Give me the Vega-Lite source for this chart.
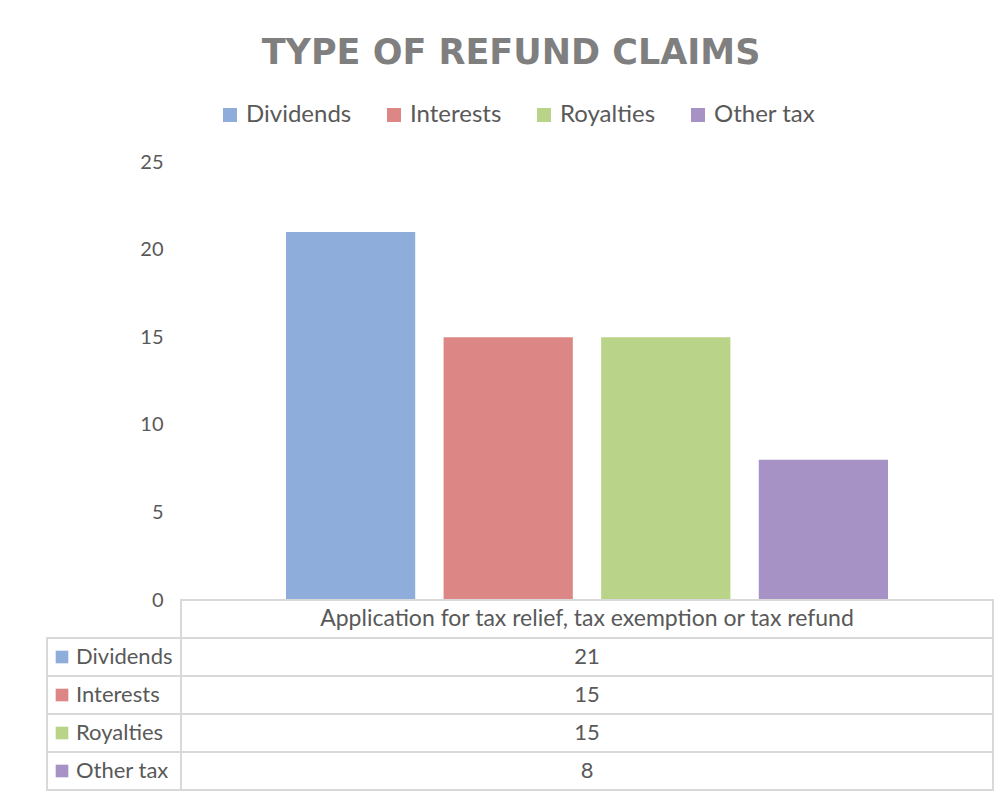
{
  "$schema": "https://vega.github.io/schema/vega-lite/v6.json",
  "padding": {"left": 46, "top": 36, "right": 10, "bottom": 2},
  "background": "white",
  "datasets": {
    "claims": [
      {"category": "Application for tax relief, tax exemption or tax refund", "series": "Dividends", "count": 21},
      {"category": "Application for tax relief, tax exemption or tax refund", "series": "Interests", "count": 15},
      {"category": "Application for tax relief, tax exemption or tax refund", "series": "Royalties", "count": 15},
      {"category": "Application for tax relief, tax exemption or tax refund", "series": "Other tax", "count": 8}
    ]
  },
  "title": {
    "text": "TYPE OF REFUND CLAIMS",
    "font": "DejaVu Sans",
    "fontSize": 35,
    "fontWeight": "bold",
    "color": "#7f7f7f",
    "anchor": "middle",
    "offset": 32,
    "dx": -9
  },
  "spacing": 0,
  "bounds": "flush",
  "resolve": {"legend": {"color": "independent"}},
  "vconcat": [
    {
      "width": 946,
      "height": 438,
      "data": {"name": "claims"},
      "mark": {"type": "bar"},
      "encoding": {
        "x": {
          "field": "series",
          "type": "nominal",
          "sort": ["Dividends", "Interests", "Royalties", "Other tax"],
          "scale": {"range": [239, 841], "paddingInner": 0.18, "paddingOuter": 0},
          "axis": null
        },
        "y": {
          "field": "count",
          "type": "quantitative",
          "scale": {"domain": [0, 25]},
          "axis": {
            "values": [0, 5, 10, 15, 20, 25],
            "grid": false,
            "domain": false,
            "ticks": false,
            "labelPadding": 18,
            "offset": -134,
            "labelFont": "Lato",
            "labelFontSize": 20,
            "labelColor": "#595959",
            "title": null
          }
        },
        "color": {
          "field": "series",
          "type": "nominal",
          "scale": {
            "domain": ["Dividends", "Interests", "Royalties", "Other tax"],
            "range": ["#8eaddb", "#dc8785", "#b9d388", "#a692c5"]
          },
          "legend": {
            "orient": "none",
            "legendX": 171,
            "legendY": -59,
            "direction": "horizontal",
            "title": null,
            "padding": 0,
            "symbolType": "square",
            "symbolSize": 196,
            "symbolStrokeWidth": 0,
            "labelFont": "Lato",
            "labelFontSize": 24,
            "labelColor": "#595959",
            "labelOffset": 4,
            "columnPadding": 30
          }
        }
      }
    },
    {
      "spacing": 0,
      "bounds": "flush",
      "hconcat": [
        {
          "width": 134,
          "height": 190,
          "data": {"name": "claims"},
          "encoding": {
            "y": {
              "field": "series",
              "type": "nominal",
              "scale": {
                "domain": ["Application for tax relief, tax exemption or tax refund", "Dividends", "Interests", "Royalties", "Other tax"],
                "paddingInner": 0,
                "paddingOuter": 0
              },
              "axis": null
            }
          },
          "layer": [
            {
              "mark": {"type": "rect", "fill": "white", "stroke": "#d9d9d9", "strokeWidth": 2},
              "encoding": {
                "x": {"datum": "cell", "type": "nominal", "scale": {"paddingInner": 0, "paddingOuter": 0}, "axis": null}
              }
            },
            {
              "mark": {"type": "square", "size": 160, "filled": true, "opacity": 1, "xOffset": 15},
              "encoding": {
                "x": {"datum": "cell", "type": "nominal", "bandPosition": 0, "axis": null},
                "color": {"field": "series", "type": "nominal", "legend": null}
              }
            },
            {
              "mark": {"type": "text", "align": "left", "dx": 29, "font": "Lato", "fontSize": 22, "color": "#595959"},
              "encoding": {
                "x": {"datum": "cell", "type": "nominal", "bandPosition": 0, "axis": null},
                "text": {"field": "series"}
              }
            }
          ]
        },
        {
          "width": 812,
          "height": 190,
          "data": {"name": "claims"},
          "layer": [
            {
              "transform": [{"aggregate": [{"op": "count", "as": "n"}], "groupby": ["category"]}],
              "encoding": {
                "y": {
                  "field": "category",
                  "type": "nominal",
                  "scale": {
                    "domain": ["Application for tax relief, tax exemption or tax refund", "Dividends", "Interests", "Royalties", "Other tax"],
                    "paddingInner": 0,
                    "paddingOuter": 0
                  },
                  "axis": null
                },
                "x": {"datum": "cell", "type": "nominal", "scale": {"paddingInner": 0, "paddingOuter": 0}, "axis": null}
              },
              "layer": [
                {"mark": {"type": "rect", "fill": "white", "stroke": "#d9d9d9", "strokeWidth": 2}},
                {
                  "mark": {"type": "text", "font": "Lato", "fontSize": 23, "color": "#595959"},
                  "encoding": {"text": {"field": "category"}}
                }
              ]
            },
            {
              "encoding": {
                "y": {"field": "series", "type": "nominal", "axis": null},
                "x": {"datum": "cell", "type": "nominal", "axis": null}
              },
              "layer": [
                {"mark": {"type": "rect", "fill": "white", "stroke": "#d9d9d9", "strokeWidth": 2}},
                {
                  "mark": {"type": "text", "font": "Lato", "fontSize": 22, "color": "#595959"},
                  "encoding": {"text": {"field": "count", "type": "quantitative"}}
                }
              ]
            }
          ]
        }
      ]
    }
  ],
  "config": {
    "view": {"stroke": null},
    "font": "Lato"
  }
}
